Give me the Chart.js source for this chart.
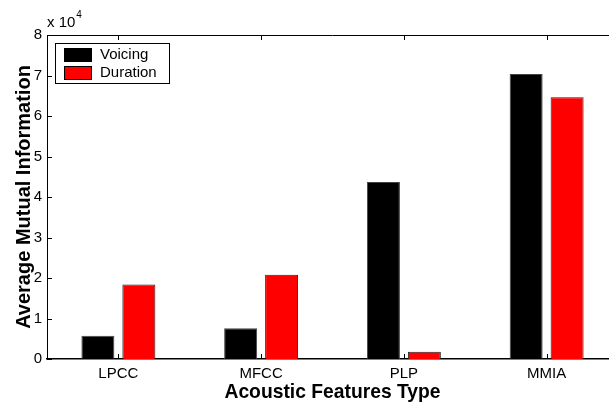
<!DOCTYPE html>
<html>
<head>
<meta charset="utf-8">
<script src="https://cdn.jsdelivr.net/npm/chart.js@4.4.1/dist/chart.umd.min.js"></script>
<style>
    html, body { margin: 0; padding: 0; background: #fff; overflow: hidden; }
    canvas { display: block; }
</style>
</head>
<body>
<canvas id="chart" width="640" height="402"></canvas>
<script>
// Values (y axis is in units of 10^4)
const categories = ['LPCC', 'MFCC', 'PLP', 'MMIA'];
const voicing = [5750, 7600, 43700, 70400];
const duration = [18400, 20800, 1800, 64600];
const yTicks = [0, 10000, 20000, 30000, 40000, 50000, 60000, 70000, 80000];

const FONT = 'Arial, "Liberation Sans", sans-serif';

// MATLAB style frame: inward ticks, top border, exponent label, boxed legend
const matlabFrame = {
    id: 'matlabFrame',
    afterDraw(chart) {
        const ctx = chart.ctx;
        const area = chart.chartArea;
        const x = chart.scales.x;
        const y = chart.scales.y;
        ctx.save();
        ctx.strokeStyle = '#000';
        ctx.lineWidth = 1;

        // top border
        ctx.beginPath();
        ctx.moveTo(area.left, area.top + 0.5);
        ctx.lineTo(area.right, area.top + 0.5);
        ctx.stroke();

        // y ticks pointing inward
        yTicks.forEach(v => {
            const py = Math.round(y.getPixelForValue(v)) + 0.5;
            ctx.beginPath();
            ctx.moveTo(area.left, py);
            ctx.lineTo(area.left + 5, py);
            ctx.stroke();
        });

        // x ticks at top and bottom, pointing inward
        categories.forEach((c, i) => {
            const px = Math.round(x.getPixelForValue(i)) + 0.5;
            ctx.beginPath();
            ctx.moveTo(px, area.top);
            ctx.lineTo(px, area.top + 5);
            ctx.moveTo(px, area.bottom);
            ctx.lineTo(px, area.bottom - 5);
            ctx.stroke();
        });

        // exponent label
        ctx.fillStyle = '#000';
        ctx.textBaseline = 'middle';
        ctx.textAlign = 'left';
        ctx.font = '15px ' + FONT;
        ctx.fillText('x 10', area.left, 23);
        const w = ctx.measureText('x 10').width;
        ctx.font = '10px ' + FONT;
        ctx.fillText('4', area.left + w + 1, 15);

        // legend box
        const lx = 55, ly = 43, lw = 114, lh = 40;
        ctx.fillStyle = '#fff';
        ctx.fillRect(lx, ly, lw, lh);
        ctx.strokeRect(lx + 0.5, ly + 0.5, lw, lh);
        chart.data.datasets.forEach((ds, i) => {
            const sy = ly + 5 + i * 18;
            ctx.fillStyle = ds.backgroundColor;
            ctx.fillRect(64, sy, 27, 13);
            ctx.strokeRect(64.5, sy + 0.5, 27, 13);
            ctx.fillStyle = '#000';
            ctx.font = '15px ' + FONT;
            ctx.fillText(ds.label, 100, sy + 7);
        });
        ctx.restore();
    }
};

new Chart(document.getElementById('chart'), {
    type: 'bar',
    data: {
        labels: categories,
        datasets: [
            {
                label: 'Voicing',
                data: voicing,
                backgroundColor: '#000000',
                borderColor: '#444444',
                borderWidth: 1,
                categoryPercentage: 0.574,
                barPercentage: 0.805
            },
            {
                label: 'Duration',
                data: duration,
                backgroundColor: '#ff0000',
                borderColor: '#222222',
                borderWidth: 1,
                categoryPercentage: 0.574,
                barPercentage: 0.805
            }
        ]
    },
    options: {
        responsive: false,
        animation: false,
        layout: { padding: { top: 35, right: 22, left: 0, bottom: 0 } },
        plugins: {
            legend: { display: false },
            tooltip: { enabled: false }
        },
        scales: {
            x: {
                grid: { display: false, drawTicks: false },
                border: { display: true, color: '#000', width: 1.5 },
                ticks: { color: '#000', font: { family: FONT, size: 15 }, padding: 6 },
                title: {
                    display: true,
                    text: 'Acoustic Features Type',
                    color: '#000',
                    font: { family: FONT, size: 19.3, weight: 'bold', lineHeight: 1 },
                    padding: { top: 0, bottom: 0 }
                },
                afterFit(scale) { scale.height = 43; }
            },
            y: {
                min: 0,
                max: 80000,
                afterBuildTicks(scale) { scale.ticks = yTicks.map(v => ({ value: v })); },
                grid: { display: false, drawTicks: false },
                border: { display: true, color: '#000', width: 1 },
                ticks: {
                    color: '#000',
                    font: { family: FONT, size: 15 },
                    padding: 5,
                    callback: v => v / 10000
                },
                title: {
                    display: true,
                    text: 'Average Mutual Information',
                    color: '#000',
                    font: { family: FONT, size: 20, weight: 'bold' },
                    padding: { top: 12, bottom: 0 }
                },
                afterFit(scale) { scale.width = 47; }
            }
        }
    },
    plugins: [matlabFrame]
});
</script>
</body>
</html>
